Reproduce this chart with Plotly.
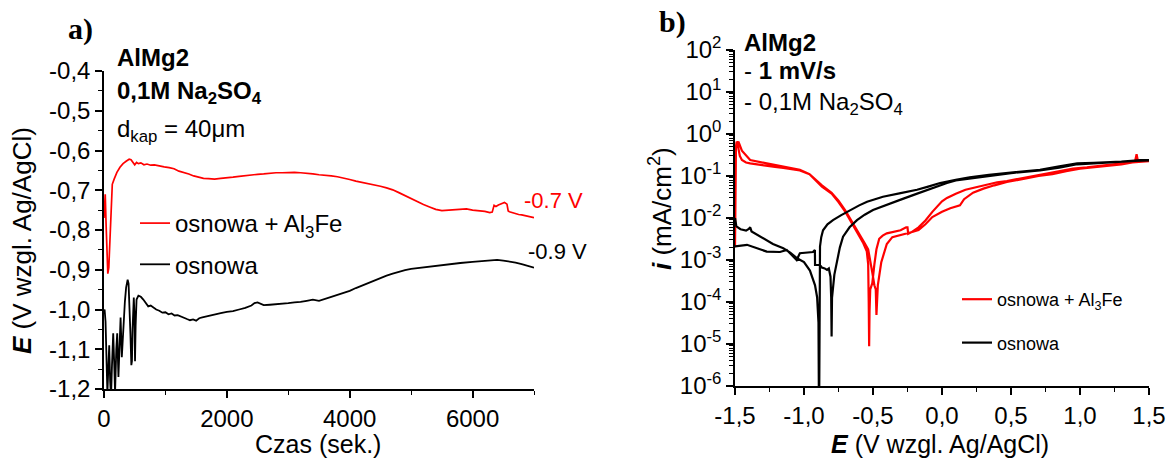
import plotly.graph_objects as go

# ---------------- Panel a: open-circuit potential vs. time ----------------
t_al3fe = [0, 20, 35, 50, 62, 78, 95, 115, 135, 165, 210, 260, 310, 360, 410, 440, 470, 500,
           530, 560, 600, 650, 700, 760, 820, 900, 980, 1060, 1140, 1220, 1300, 1380, 1460,
           1540, 1620, 1700, 1800, 1900, 2000, 2100, 2200, 2300, 2400, 2500, 2600, 2700, 2800,
           2900, 3000, 3100, 3200, 3300, 3400, 3500, 3600, 3700, 3800, 3900, 4000, 4100, 4200,
           4300, 4400, 4500, 4600, 4700, 4800, 4900, 5000, 5100, 5200, 5300, 5400, 5500, 5600,
           5700, 5800, 5900, 6000, 6100, 6200, 6280, 6320, 6350, 6380, 6420, 6470, 6520, 6560,
           6580, 6600, 6650, 6700, 6750, 6800, 6850, 6900, 6950, 7000]
e_al3fe = [-0.77, -0.71, -0.79, -0.86, -0.91, -0.895, -0.83, -0.74, -0.685, -0.672, -0.655,
           -0.642, -0.633, -0.627, -0.622, -0.623, -0.630, -0.636, -0.630, -0.633, -0.631,
           -0.636, -0.634, -0.637, -0.636, -0.639, -0.641, -0.643, -0.646, -0.652, -0.655,
           -0.659, -0.664, -0.667, -0.670, -0.671, -0.672, -0.670, -0.669, -0.667, -0.665,
           -0.663, -0.661, -0.660, -0.659, -0.657, -0.656, -0.656, -0.655, -0.655, -0.656,
           -0.657, -0.659, -0.661, -0.662, -0.664, -0.666, -0.669, -0.673, -0.677, -0.680,
           -0.684, -0.687, -0.690, -0.694, -0.699, -0.706, -0.714, -0.722, -0.729, -0.736,
           -0.742, -0.748, -0.751, -0.750, -0.749, -0.747, -0.747, -0.750, -0.751, -0.753,
           -0.756, -0.755, -0.738, -0.741, -0.737, -0.733, -0.731, -0.735, -0.752, -0.754,
           -0.757, -0.758, -0.761, -0.762, -0.764, -0.766, -0.767, -0.769]

t_osnowa = [0, 10, 25, 40, 55, 70, 85, 100, 115, 130, 150, 165, 180, 200, 215, 235, 255, 270,
            290, 305, 320, 340, 360, 385, 400, 415, 430, 445, 455, 465, 475, 485, 495, 505,
            515, 530, 560, 600, 640, 680, 720, 760, 800, 850, 900, 950, 1000, 1050, 1100,
            1150, 1200, 1250, 1300, 1350, 1400, 1450, 1500, 1550, 1600, 1700, 1800, 1900,
            2000, 2100, 2200, 2300, 2400, 2450, 2500, 2550, 2600, 2700, 2800, 2900, 3000,
            3100, 3200, 3300, 3400, 3500, 3600, 3700, 3800, 3900, 4000, 4100, 4200, 4300,
            4400, 4500, 4600, 4700, 4800, 4900, 5000, 5200, 5400, 5600, 5800, 6000, 6200,
            6300, 6400, 6500, 6600, 6700, 6800, 6900, 7000]
e_osnowa = [-1.01, -1.00, -1.03, -1.12, -1.21, -1.15, -1.09, -1.18, -1.22, -1.14, -1.06, -1.13,
            -1.21, -1.10, -1.06, -1.17, -1.05, -1.02, -1.12, -1.07, -1.03, -0.98, -0.945,
            -0.925, -0.935, -0.98, -1.06, -1.14, -1.13, -1.05, -0.99, -0.97, -1.01, -1.13,
            -1.04, -0.975, -0.965, -0.968, -0.975, -0.985, -0.992, -0.990, -0.995, -1.000,
            -1.003, -1.008, -1.007, -1.012, -1.010, -1.015, -1.014, -1.018, -1.020, -1.024,
            -1.027, -1.025, -1.028, -1.022, -1.020, -1.016, -1.012, -1.009, -1.006, -1.004,
            -1.000, -0.996, -0.990, -0.984, -0.982, -0.986, -0.989, -0.988, -0.987, -0.985,
            -0.984, -0.982, -0.981, -0.978, -0.975, -0.978, -0.972, -0.968, -0.963, -0.958,
            -0.953, -0.946, -0.940, -0.933, -0.927, -0.920, -0.915, -0.910, -0.905, -0.901,
            -0.898, -0.894, -0.890, -0.886, -0.883, -0.880, -0.878, -0.876, -0.875, -0.877,
            -0.879, -0.882, -0.886, -0.890, -0.895]

# ---------------- Panel b: potentiodynamic polarization curves ----------------
# forward scan followed by reverse scan; current density in mA/cm2
E_pol_al3fe = [-1.500, -1.499, -1.497, -1.493, -1.488, -1.482, -1.475, -1.465, -1.45, -1.42,
               -1.39, -1.33, -1.27, -1.21, -1.15, -1.09, -1.03, -0.96, -0.91, -0.87, -0.80,
               -0.75, -0.70, -0.65, -0.60, -0.57, -0.545, -0.535, -0.531, -0.528, -0.525,
               -0.520, -0.505, -0.49, -0.475, -0.455, -0.43, -0.40, -0.35, -0.30, -0.26,
               -0.25, -0.245, -0.22, -0.17, -0.12, -0.07, -0.03, 0.00, 0.036, 0.10, 0.17,
               0.225, 0.30, 0.40, 0.47, 0.55, 0.62, 0.71, 0.80, 0.90, 0.95, 1.05, 1.15, 1.20,
               1.28, 1.35, 1.40, 1.410, 1.418, 1.45, 1.50,
               1.50, 1.45, 1.38, 1.30, 1.20, 1.10, 1.00, 0.90, 0.80, 0.70, 0.60, 0.47, 0.38,
               0.30, 0.225, 0.16, 0.13, 0.06, 0.00, -0.04, -0.07, -0.12, -0.17, -0.21, -0.30,
               -0.36, -0.40, -0.44, -0.465, -0.475, -0.480, -0.49, -0.505, -0.52, -0.535,
               -0.56, -0.60, -0.65, -0.70, -0.75, -0.80, -0.87, -0.91, -0.96, -1.03, -1.15,
               -1.27, -1.39, -1.45, -1.475, -1.485, -1.49, -1.497, -1.500]
i_pol_al3fe = [2.0e-3, 2.0e-2, 2.0e-1, 5.0e-1, 6.6e-1, 6.2e-1, 4.5e-1, 3.0e-1, 2.4e-1, 2.1e-1,
               2.0e-1, 1.85e-1, 1.75e-1, 1.65e-1, 1.55e-1, 1.45e-1, 1.35e-1, 1.1e-1, 7.6e-2,
               5.6e-2, 3.8e-2, 2.4e-2, 1.4e-2, 7.1e-3, 3.8e-3, 2.5e-3, 1.6e-3, 8.0e-4, 1.0e-4,
               8.9e-6, 6.3e-5, 2.0e-4, 2.8e-4, 7.9e-4, 1.8e-3, 3.2e-3, 3.8e-3, 4.3e-3, 4.7e-3,
               5.1e-3, 6.0e-3, 6.0e-3, 4.2e-3, 4.6e-3, 6.0e-3, 8.7e-3, 1.4e-2, 1.9e-2, 2.5e-2,
               3.0e-2, 3.8e-2, 4.7e-2, 5.2e-2, 6.0e-2, 7.1e-2, 7.6e-2, 8.5e-2, 9.3e-2, 1.05e-1,
               1.17e-1, 1.38e-1, 1.5e-1, 1.6e-1, 1.75e-1, 1.8e-1, 1.95e-1, 2.1e-1, 2.3e-1,
               3.3e-1, 2.4e-1, 2.35e-1, 2.3e-1,
               2.25e-1, 2.2e-1, 2.1e-1, 1.9e-1, 1.75e-1, 1.6e-1, 1.5e-1, 1.3e-1, 1.1e-1,
               1.0e-1, 8.7e-2, 7.2e-2, 6.0e-2, 5.0e-2, 4.0e-2, 2.8e-2, 2.0e-2, 1.7e-2,
               1.4e-2, 1.2e-2, 1.05e-2, 7.1e-3, 5.2e-3, 4.7e-3, 4.0e-3, 3.5e-3, 2.4e-3,
               8.9e-4, 2.5e-4, 4.9e-5, 2.0e-4, 2.5e-4, 5.0e-4, 1.0e-3, 1.8e-3, 2.5e-3,
               4.2e-3, 7.9e-3, 1.5e-2, 2.6e-2, 4.0e-2, 6.0e-2, 7.9e-2, 1.1e-1, 1.4e-1,
               1.7e-1, 2.0e-1, 2.4e-1, 4.0e-1, 6.6e-1, 6.0e-1, 5.0e-1, 4.5e-1]

E_pol_osnowa = [-1.500, -1.49, -1.46, -1.42, -1.40, -1.39, -1.38, -1.34, -1.27, -1.225, -1.15,
                -1.10, -1.05, -1.00, -0.957, -0.935, -0.92, -0.905, -0.895, -0.891, -0.889,
                -0.886, -0.884, -0.875, -0.862, -0.83, -0.79, -0.73, -0.667, -0.60, -0.543,
                -0.48, -0.428, -0.30, -0.181, -0.10, -0.014, 0.10, 0.20, 0.34, 0.50, 0.71,
                0.85, 0.98, 1.10, 1.20, 1.30, 1.44, 1.50,
                1.50, 1.40, 1.30, 1.20, 1.05, 0.98, 0.85, 0.71, 0.50, 0.34, 0.20, 0.10, 0.036,
                -0.065, -0.18, -0.304, -0.40, -0.50, -0.56, -0.616, -0.67, -0.717, -0.74,
                -0.76, -0.78, -0.797, -0.800, -0.803, -0.808, -0.82, -0.833, -0.85, -0.87,
                -0.884, -0.92, -0.921, -0.935, -1.03, -1.053, -1.125, -1.174, -1.27, -1.39,
                -1.413, -1.500]
i_pol_osnowa = [1.0e-2, 6.3e-3, 5.4e-3, 5.0e-3, 5.5e-3, 6.0e-3, 4.8e-3, 4.0e-3, 3.0e-3,
                2.4e-3, 1.9e-3, 1.5e-3, 1.1e-3, 8.9e-4, 5.6e-4, 3.5e-4, 2.5e-4, 1.3e-4,
                3.2e-5, 1.0e-7, 1.0e-4, 5.0e-4, 2.1e-3, 3.5e-3, 5.1e-3, 7.1e-3, 8.9e-3,
                1.17e-2, 1.55e-2, 2.0e-2, 2.45e-2, 2.9e-2, 3.2e-2, 3.9e-2, 4.7e-2, 5.6e-2,
                6.8e-2, 8.1e-2, 9.3e-2, 1.07e-1, 1.2e-1, 1.41e-1, 1.7e-1, 2.0e-1, 2.05e-1,
                2.1e-1, 2.2e-1, 2.4e-1, 2.4e-1,
                2.35e-1, 2.3e-1, 2.2e-1, 2.1e-1, 2.0e-1, 1.9e-1, 1.58e-1, 1.35e-1, 1.17e-1,
                1.0e-1, 8.7e-2, 7.8e-2, 6.8e-2, 5.1e-2, 3.8e-2, 2.7e-2, 2.1e-2, 1.55e-2,
                1.2e-2, 8.9e-3, 6.0e-3, 3.6e-3, 2.0e-3, 1.0e-3, 4.5e-4, 1.26e-4, 1.5e-5,
                1.26e-4, 4.0e-4, 6.3e-4, 5.8e-4, 6.3e-4, 6.6e-4, 7.6e-4, 7.6e-4, 1.74e-3,
                1.55e-3, 1.45e-3, 1.0e-3, 1.74e-3, 1.55e-3, 1.58e-3, 2.14e-3, 2.3e-3, 2.1e-3]

# ---------------- tick labels ----------------
ya_vals = [-1.2, -1.1, -1.0, -0.9, -0.8, -0.7, -0.6, -0.5, -0.4]
ya_text = ["-1,2", "-1,1", "-1,0", "-0,9", "-0,8", "-0,7", "-0,6", "-0,5", "-0,4"]
xa_vals = [0, 2000, 4000, 6000]
xa_text = ["0", "2000", "4000", "6000"]
xb_vals = [-1.5, -1.0, -0.5, 0.0, 0.5, 1.0, 1.5]
xb_text = ["-1,5", "-1,0", "-0,5", "0,0", "0,5", "1,0", "1,5"]
yb_exp = [-6, -5, -4, -3, -2, -1, 0, 1, 2]
yb_vals = [10.0 ** k for k in yb_exp]
yb_text = ["10<sup>%d</sup>" % k for k in yb_exp]
yb_minor = [m * 10.0 ** k for k in yb_exp[:-1] for m in range(2, 10)]

FONT = "Liberation Sans"
W, H = 1169, 459


def px(x):
    return x / W


def py(y):
    return 1 - y / H


fig = go.Figure()

fig.add_trace(go.Scatter(x=t_al3fe, y=e_al3fe, mode="lines", name="osnowa + Al<sub>3</sub>Fe",
                         line=dict(color="#ff0000", width=1.7), xaxis="x", yaxis="y",
                         legend="legend", legendgroup="a1"))
fig.add_trace(go.Scatter(x=t_osnowa, y=e_osnowa, mode="lines", name="osnowa",
                         line=dict(color="#000000", width=1.8), xaxis="x", yaxis="y",
                         legend="legend", legendgroup="a2"))
fig.add_trace(go.Scatter(x=E_pol_al3fe, y=i_pol_al3fe, mode="lines", name="osnowa + Al<sub>3</sub>Fe",
                         line=dict(color="#ff0000", width=2.2), xaxis="x2", yaxis="y2",
                         legend="legend2", legendgroup="b1"))
fig.add_trace(go.Scatter(x=E_pol_osnowa, y=i_pol_osnowa, mode="lines", name="osnowa",
                         line=dict(color="#000000", width=2.2), xaxis="x2", yaxis="y2",
                         legend="legend2", legendgroup="b2"))

axis_common = dict(showline=True, linecolor="black", linewidth=1.5, ticks="outside",
                   ticklen=7, tickwidth=1.5, tickcolor="black", showgrid=False,
                   zeroline=False, mirror=False, automargin=False,
                   tickfont=dict(family=FONT, size=24, color="black"))
minor_common = dict(ticks="outside", ticklen=4, tickwidth=1.2, tickcolor="black", showgrid=False)

fig.update_layout(
    width=W, height=H,
    margin=dict(l=0, r=0, t=0, b=0, autoexpand=False),
    paper_bgcolor="white", plot_bgcolor="white",
    font=dict(family=FONT, color="black"),
    xaxis=dict(domain=[px(104), px(534)], range=[0, 7000], anchor="y",
               tickmode="array", tickvals=xa_vals, ticktext=xa_text,
               minor=dict(dtick=1000, tick0=0, **minor_common), **axis_common),
    yaxis=dict(domain=[py(389), py(71)], range=[-1.2, -0.4], anchor="x",
               tickmode="array", tickvals=ya_vals, ticktext=ya_text,
               minor=dict(dtick=0.05, tick0=0, **minor_common), **axis_common),
    xaxis2=dict(domain=[px(735), px(1149)], range=[-1.5, 1.5], anchor="y2",
                tickmode="array", tickvals=xb_vals, ticktext=xb_text,
                minor=dict(dtick=0.25, tick0=0, **minor_common), **axis_common),
    yaxis2=dict(domain=[py(386), py(50)], type="log", range=[-6, 2], anchor="x2",
                tickmode="array", tickvals=yb_vals, ticktext=yb_text,
                minor=dict(tickmode="array", tickvals=yb_minor, **minor_common), **axis_common),
    legend=dict(x=px(135), y=py(201), xanchor="left", yanchor="top",
                bgcolor="rgba(0,0,0,0)", traceorder="grouped", tracegroupgap=7,
                font=dict(family=FONT, size=24, color="black")),
    legend2=dict(x=px(957), y=py(281), xanchor="left", yanchor="top",
                 bgcolor="rgba(0,0,0,0)", traceorder="grouped", tracegroupgap=17,
                 font=dict(family=FONT, size=18, color="black")),
    showlegend=True,
)


def note(text, x, y, size=24, xanchor="left", yanchor="middle", color="black",
         family=FONT, angle=0):
    fig.add_annotation(text=text, x=px(x), y=py(y), xref="paper", yref="paper",
                       xanchor=xanchor, yanchor=yanchor, showarrow=False,
                       textangle=angle, font=dict(family=family, size=size, color=color))


# panel labels
note("<b>a)</b>", 66, 29, size=30, family="Liberation Serif")
note("<b>b)</b>", 657, 22, size=30, family="Liberation Serif")

# panel a inscriptions
note("<b>AlMg2</b>", 115, 57)
note("<b>0,1M Na<sub>2</sub>SO<sub>4</sub></b>", 115, 93)
note("d<sub>kap</sub> = 40\u03bcm", 115, 131)
note("-0.7 V", 522, 200, size=22, color="#ff0000")
note("-0.9 V", 526, 251, size=22)

# panel b inscriptions
note("<b>AlMg2</b>", 742, 42)
note("- <b>1 mV/s</b>", 742, 71)
note("- 0,1M Na<sub>2</sub>SO<sub>4</sub>", 742, 104)

# axis titles
note("Czas (sek.)", 318, 444, size=25, xanchor="center")
note("<b><i>E</i></b> (V wzgl. Ag/AgCl)", 22, 241, size=26, xanchor="center", angle=-90)
note("<b><i>E</i></b> (V wzgl. Ag/AgCl)", 940, 444, size=25, xanchor="center")
note("<b><i>i</i></b> (mA/cm<sup>2</sup>)", 660, 208, size=26, xanchor="center", angle=-90)

fig.write_html("out.html")
